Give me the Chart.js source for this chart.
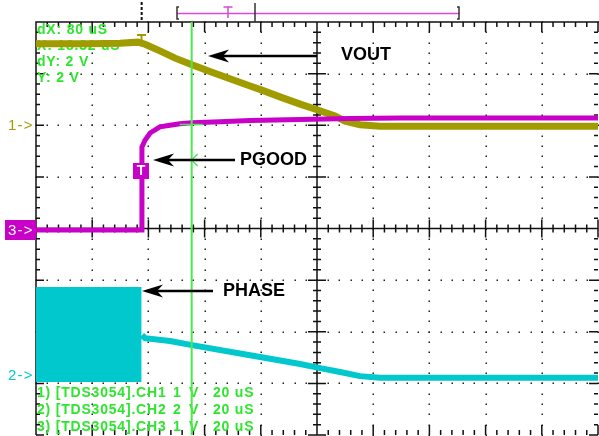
<!DOCTYPE html>
<html>
<head>
<meta charset="utf-8">
<script src="https://cdn.jsdelivr.net/npm/chart.js@4.4.1/dist/chart.umd.min.js"></script>
<style>
  html, body { margin: 0; padding: 0; background: #fff; overflow: hidden; }
  #wrap { position: relative; width: 599px; height: 436px; }
</style>
</head>
<body>
<div id="wrap"><canvas id="scope" width="599" height="436"></canvas></div>
<script>
// 時基 20 uS/div，共 10 格
const timeMinUs = 0;
const timeMaxUs = 200;

// CH1 VOUT (1 V/div)
const voutTimeUs = [0, 8.5, 19.2, 29.9, 36.3, 38.8, 44.1, 49.5, 55.5, 61.9, 69.0, 76.2, 80.4, 86.8, 94.0, 100.0, 106.4, 110.0, 115.3, 122.4, 147.3, 172.2, 200];
const voutVolts  = [1.58, 1.58, 1.58, 1.59, 1.61, 1.57, 1.44, 1.30, 1.17, 1.04, 0.90, 0.76, 0.68, 0.55, 0.41, 0.30, 0.18, 0.08, 0.01, -0.02, -0.02, -0.02, -0.02];

// CH3 PGOOD (1 V/div)
const pgoodTimeUs = [0, 20, 37.5, 37.7, 38.8, 40.6, 44.1, 47.7, 51.2, 55.5, 65.5, 76.2, 94.0, 111.7, 129.5, 165.1, 200];
const pgoodVolts  = [-0.03, -0.03, -0.03, 1.58, 1.71, 1.85, 1.97, 2.00, 2.03, 2.05, 2.07, 2.09, 2.11, 2.13, 2.14, 2.14, 2.14];

// CH2 PHASE (2 V/div)：切換期間的包絡 + 之後的衰減
const burstTimeUs     = [0, 37.6];
const burstHighVolts  = [3.41, 3.41];
const burstLowVolts   = [-0.27, -0.27];
const phaseTimeUs = [37.7, 38.8, 47.7, 55.5, 76.2, 94.0, 101.1, 108.2, 115.3, 122.4, 147.3, 172.2, 200];
const phaseVolts  = [1.55, 1.43, 1.32, 1.16, 0.77, 0.43, 0.27, 0.12, -0.04, -0.10, -0.10, -0.10, -0.10];

// 游標
const cursorTimeUs = [55.4, 55.4];
const cursorDiv    = [-4, 4];

// 讀數
const readoutTop = ['dX: 80 uS', 'X: 18.32 uS', 'dY: 2 V', 'Y: 2 V'];
const channelNames = ['1) [TDS3054].CH1', '2) [TDS3054].CH2', '3) [TDS3054].CH3'];
const channelScale = ['1', '2', '1'];
const timebaseLabel = '20 uS';

const C_OLIVE = '#a09c00';
const C_MAG = '#c800c8';
const C_CYAN = '#00c8cc';
const C_GREEN = '#2fe52f';

const pts = (xs, ys) => xs.map((x, i) => ({ x, y: ys[i] }));

function arrow(ctx, tipX, tailX, y) {
  ctx.strokeStyle = '#000';
  ctx.fillStyle = '#000';
  ctx.lineWidth = 2.5;
  ctx.beginPath();
  ctx.moveTo(tipX + 14, y);
  ctx.lineTo(tailX, y);
  ctx.stroke();
  ctx.beginPath();
  ctx.moveTo(tipX, y);
  ctx.lineTo(tipX + 21, y - 6.5);
  ctx.lineTo(tipX + 15, y);
  ctx.lineTo(tipX + 21, y + 6.5);
  ctx.closePath();
  ctx.fill();
}

const scopeFace = {
  id: 'scopeFace',
  beforeDatasetsDraw(chart) {
    const { ctx, chartArea: a, scales } = chart;
    const xs = scales.x, ys = scales.yCh3;
    const px = t => xs.getPixelForValue(t);
    const py = v => ys.getPixelForValue(v);
    const cx = px(100), cy = py(0);
    ctx.save();

    // 點狀格線
    ctx.fillStyle = '#222';
    for (let i = 1; i < 10; i++) {
      if (i === 5) continue;
      const x = Math.round(px(i * 20));
      for (let k = 0; k <= 40; k++) ctx.fillRect(x - 0.5, Math.round(py(-4 + k * 0.2)) - 0.5, 1.5, 1.5);
    }
    for (let j = -3; j <= 3; j++) {
      if (j === 0) continue;
      const y = Math.round(py(j));
      for (let k = 0; k <= 50; k++) ctx.fillRect(Math.round(px(k * 4)) - 0.5, y - 0.5, 1.5, 1.5);
    }

    // 中心十字與邊框
    ctx.strokeStyle = '#111';
    ctx.lineWidth = 1.5;
    ctx.beginPath();
    ctx.moveTo(a.left, cy); ctx.lineTo(a.right, cy);
    ctx.moveTo(cx, a.top); ctx.lineTo(cx, a.bottom);
    ctx.moveTo(a.left, a.bottom); ctx.lineTo(a.left, a.top); ctx.lineTo(a.right + 1, a.top);
    for (let k = 0; k <= 50; k++) {
      const x = px(k * 4), major = k % 5 === 0;
      const h = major ? 9 : 4;
      ctx.moveTo(x, cy - h); ctx.lineTo(x, cy + h);
      ctx.moveTo(x, a.top); ctx.lineTo(x, a.top + (major ? 10 : 5));
      ctx.moveTo(x, a.bottom); ctx.lineTo(x, a.bottom - (major ? 10 : 5));
    }
    for (let k = 0; k <= 40; k++) {
      const y = py(-4 + k * 0.2), major = k % 5 === 0;
      const w = major ? 9 : 4;
      ctx.moveTo(cx - w, y); ctx.lineTo(cx + w, y);
      ctx.moveTo(a.left, y); ctx.lineTo(a.left + (major ? 8 : 4), y);
      ctx.moveTo(a.right, y); ctx.lineTo(a.right - (major ? 9 : 4), y);
    }
    ctx.stroke();

    // 上方記錄窗口
    const trigX = px(37.6);
    ctx.setLineDash([3, 2]);
    ctx.lineWidth = 2;
    ctx.beginPath(); ctx.moveTo(trigX, 2); ctx.lineTo(trigX, 21); ctx.stroke();
    ctx.setLineDash([]);
    ctx.strokeStyle = '#d84ad8';
    ctx.lineWidth = 1.5;
    ctx.beginPath();
    ctx.moveTo(177, 13.5); ctx.lineTo(459, 13.5);
    ctx.moveTo(223.5, 7); ctx.lineTo(232.5, 7);
    ctx.moveTo(228, 7); ctx.lineTo(228, 18);
    ctx.stroke();
    ctx.strokeStyle = '#333';
    ctx.beginPath();
    ctx.moveTo(179, 7); ctx.lineTo(177, 7); ctx.lineTo(177, 19); ctx.lineTo(179, 19);
    ctx.moveTo(457, 7); ctx.lineTo(459, 7); ctx.lineTo(459, 19); ctx.lineTo(457, 19);
    ctx.moveTo(255, 3); ctx.lineTo(255, 22);
    ctx.stroke();

    // 讀數文字
    ctx.font = 'bold 14px "Liberation Sans", Arial, sans-serif';
    ctx.letterSpacing = '0.8px';
    ctx.textBaseline = 'middle';
    ctx.fillStyle = C_GREEN;
    readoutTop.forEach((s, i) => ctx.fillText(s, 37, 30 + i * 16));
    channelNames.forEach((s, i) => {
      const y = 393 + i * 17;
      ctx.fillText(s, 37, y);
      ctx.fillText(channelScale[i], 173, y);
      ctx.fillText('V', 189, y);
      ctx.fillText(timebaseLabel, 213, y);
    });
    ctx.restore();
  },
  afterDatasetsDraw(chart) {
    const { ctx, scales } = chart;
    const curX = scales.x.getPixelForValue(cursorTimeUs[0]);
    ctx.save();
    ctx.textBaseline = 'middle';

    // 游標與波形交點標記
    ctx.strokeStyle = '#4de84d';
    ctx.lineWidth = 1.5;
    ctx.beginPath();
    ctx.moveTo(curX - 12, 124.5); ctx.lineTo(curX + 11, 124.5);
    ctx.moveTo(curX + 6, 154); ctx.lineTo(curX, 160); ctx.lineTo(curX + 6, 166);
    ctx.stroke();

    // 通道標記
    ctx.font = '15px "Liberation Sans", Arial, sans-serif';
    ctx.letterSpacing = '1.2px';
    ctx.fillStyle = C_OLIVE;
    ctx.fillText('1->', 8, 126);
    ctx.fillStyle = C_CYAN;
    ctx.fillText('2->', 8, 376);
    ctx.fillStyle = C_MAG;
    ctx.fillRect(5, 220, 31, 20);
    ctx.fillStyle = '#fff';
    ctx.fillText('3->', 8, 230.5);

    // 觸發標記
    ctx.fillStyle = C_MAG;
    ctx.fillRect(133, 163, 16, 16);
    ctx.fillStyle = '#fff';
    ctx.font = 'bold 14px "Liberation Sans", Arial, sans-serif';
    ctx.letterSpacing = '0px';
    ctx.textAlign = 'center';
    ctx.fillText('T', 141, 171.5);
    ctx.textAlign = 'left';
    ctx.strokeStyle = C_OLIVE;
    ctx.lineWidth = 2;
    ctx.beginPath();
    ctx.moveTo(137, 35); ctx.lineTo(146, 35);
    ctx.moveTo(141.5, 35); ctx.lineTo(141.5, 40);
    ctx.stroke();

    // 註解箭頭
    arrow(ctx, 208, 317, 56);
    arrow(ctx, 153, 235, 160);
    arrow(ctx, 142, 213, 291);
    ctx.fillStyle = '#000';
    ctx.font = 'bold 18px "Liberation Sans", Arial, sans-serif';
    ctx.fillText('VOUT', 341, 55.5);
    ctx.fillText('PGOOD', 240, 160);
    ctx.fillText('PHASE', 223, 291);
    ctx.restore();
  }
};

const line = (label, data, color, width, axis) => ({
  label, data, yAxisID: axis,
  borderColor: color, borderWidth: width,
  pointRadius: 0, tension: 0, fill: false
});

new Chart(document.getElementById('scope'), {
  type: 'line',
  data: {
    datasets: [
      line('cursor', pts(cursorTimeUs, cursorDiv), '#4de84d', 2, 'yCh3'),
      line('PGOOD', pts(pgoodTimeUs, pgoodVolts), C_MAG, 5, 'yCh3'),
      line('VOUT', pts(voutTimeUs, voutVolts), C_OLIVE, 7, 'yCh1'),
      line('PHASE', pts(phaseTimeUs, phaseVolts), C_CYAN, 6, 'yCh2'),
      Object.assign(line('PHASE burst high', pts(burstTimeUs, burstHighVolts), C_CYAN, 0, 'yCh2'),
        { fill: '+1', backgroundColor: C_CYAN }),
      line('PHASE burst low', pts(burstTimeUs, burstLowVolts), C_CYAN, 0, 'yCh2')
    ]
  },
  options: {
    responsive: false,
    animation: false,
    layout: { padding: { left: 36, top: 22, right: 1, bottom: 1 } },
    plugins: { legend: { display: false }, tooltip: { enabled: false } },
    scales: {
      x:    { type: 'linear', min: timeMinUs, max: timeMaxUs, display: false },
      yCh1: { type: 'linear', min: -6, max: 2, display: false },
      yCh2: { type: 'linear', min: -2.32, max: 13.68, display: false },
      yCh3: { type: 'linear', min: -4, max: 4, display: false }
    }
  },
  plugins: [scopeFace]
});
</script>
</body>
</html>
